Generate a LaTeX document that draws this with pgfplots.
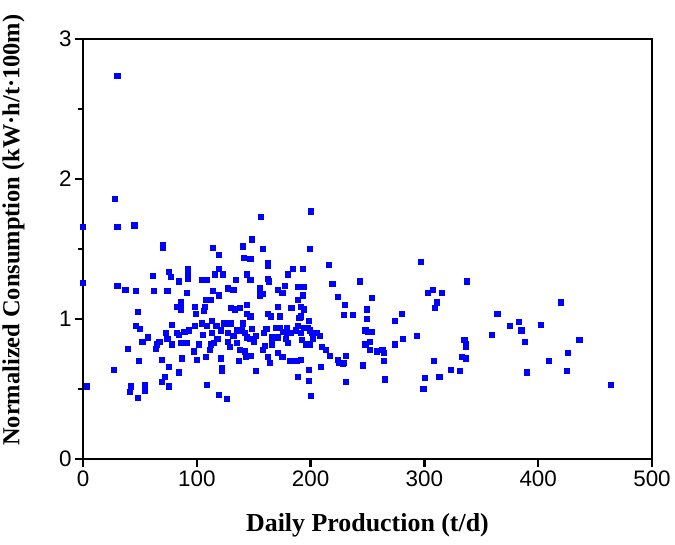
\documentclass[border=0pt]{standalone}
\usepackage{pgfplots}
\pgfplotsset{compat=1.18}
\usepackage{fontspec}
\setmainfont{Liberation Serif}
\newfontfamily\ticksf{Liberation Sans}
\begin{document}
\begin{tikzpicture}
\path[use as bounding box] (-83bp,-86bp) rectangle (592bp,459bp);
\begin{axis}[
  at={(0,0)}, anchor=south west,
  scale only axis, width=569bp, height=420bp,
  xmin=0, xmax=500, ymin=0, ymax=3,
  xtick={0,100,200,300,400,500}, ytick={0,1,2,3},
  minor ytick={0.5,1.5,2.5},
  tick align=outside, tick pos=left,
  major tick length=8bp, minor tick length=5bp,
  axis line style={line width=2.8bp},
  every tick/.style={black, line width=2.2bp},
  /pgf/number format/assume math mode=true,
  tick label style={font=\ticksf\fontsize{22.5}{26}\selectfont},
  xlabel={\textbf{Daily Production (t/d)}},
  ylabel={\textbf{Normalized Consumption (kW·h/t·100m)}},
  xlabel style={font=\fontsize{26}{30}\selectfont, at={(axis description cs:0.5,-0.157)}, anchor=center},
  ylabel style={font=\fontsize{24.5}{28}\selectfont, at={(axis description cs:-0.122,0.545)}, anchor=center, rotate=0},
  clip=false,
]
\addplot[only marks, mark=square*, mark size=2.6bp, color={rgb,255:red,0;green,0;blue,255}] coordinates {
(30,2.74) (28,1.86) (0,1.66) (30,1.66) (45,1.67) (0,1.26) (3,0.52)
(30,1.24) (37,1.21) (46,1.20) (48,1.05) (61,1.31) (70,1.53) (70,1.51) (62,1.20) (74,1.20)
(75,1.34) (77,1.30) (84,1.27) (91,1.19) (92,1.36) (92,1.32) (92,1.29) (104,1.28) (109,1.28)
(114,1.51) (119,1.46) (119,1.36) (116,1.32) (123,1.32) (114,1.20) (119,1.17) (127,1.22)
(132,1.21) (134,1.28) (140,1.52) (148,1.57) (141,1.44) (147,1.43) (144,1.32) (147,1.28)
(156,1.73) (158,1.50) (162,1.40) (162,1.38) (162,1.29) (163,1.27) (155,1.22) (155,1.17)
(158,1.18) (82,1.09) (86,1.12) (86,1.07) (98,1.09) (99,1.04) (108,1.14) (112,1.14)
(107,1.09) (106,1.06) (130,1.08) (133,1.07) (138,1.08) (144,1.10) (144,1.04) (147,1.02)
(200,1.77) (199,1.50) (184,1.36) (180,1.32) (193,1.36) (216,1.39) (297,1.41) (219,1.25)
(243,1.27) (171,1.21) (177,1.24) (175,1.19) (189,1.23) (194,1.23) (193,1.17) (189,1.14)
(224,1.16) (254,1.15) (230,1.10) (249,1.07) (171,1.09) (183,1.08) (191,1.09) (194,1.07)
(229,1.03) (237,1.03) (280,1.04) (303,1.19) (307,1.21) (315,1.19) (311,1.12) (309,1.08)
(190,1.01)
(337,1.27) (420,1.12) (364,1.04) (375,0.95) (383,0.98) (385,0.92) (402,0.96) (359,0.89)
(388,0.84) (436,0.85) (335,0.85) (336,0.82) (336,0.80) (426,0.76) (333,0.73) (336,0.72)
(409,0.70) (323,0.64) (331,0.63) (390,0.62) (425,0.63) (464,0.53) (313,0.59)
(249,1.00) (274,0.99) (293,0.88) (281,0.86) (274,0.82) (248,0.92) (250,0.91) (254,0.91)
(248,0.82) (252,0.84) (252,0.78) (258,0.77) (263,0.78) (264,0.76) (264,0.70) (265,0.57)
(246,0.67) (231,0.55) (231,0.74) (224,0.71) (225,0.69) (228,0.68) (229,0.69) (217,0.74)
(209,0.66) (198,0.64) (189,0.59) (198,0.56) (200,0.45) (188,0.70) (191,0.71) (182,0.70)
(164,0.69) (308,0.70) (300,0.58) (299,0.50)
(191,1.02) (198,0.99) (162,1.04) (165,1.02) (173,1.02) (161,0.93) (159,0.90) (169,0.94)
(173,0.94) (179,0.94) (179,0.90) (176,0.91) (182,0.90) (187,0.92) (189,0.95) (191,0.90)
(194,0.94) (197,0.94) (199,0.92) (201,0.90) (205,0.90) (208,0.88) (202,0.86) (166,0.87)
(171,0.87) (178,0.86) (180,0.83) (166,0.82) (160,0.81) (158,0.78) (162,0.73) (171,0.76)
(175,0.73) (192,0.85) (196,0.82) (199,0.82) (210,0.80) (213,0.78)
(46,0.95) (50,0.93) (57,0.87) (52,0.84) (39,0.79) (49,0.70) (27,0.64) (42,0.52) (41,0.48)
(48,0.44) (54,0.53) (54,0.49) (69,0.55) (72,0.59) (75,0.52) (75,0.66) (69,0.71) (84,0.62)
(87,0.72) (65,0.82) (67,0.84) (64,0.79) (73,0.90) (74,0.86) (78,0.96) (78,0.82) (82,0.90)
(84,0.89) (86,0.83) (91,0.83) (89,0.91) (93,0.92) (98,0.95) (97,0.77) (100,0.71) (102,0.82)
(104,0.97) (105,0.89) (108,0.73) (109,0.53) (111,0.78) (112,0.82) (113,0.99) (113,0.90)
(117,0.95) (115,0.83) (121,0.72) (122,0.65) (122,0.63) (119,0.46) (126,0.43) (124,0.97)
(121,0.92) (127,0.90) (127,0.84) (129,0.80) (130,0.97) (132,0.88) (135,0.83) (138,0.78)
(137,0.70) (139,0.92) (140,0.97) (142,0.77) (143,0.73) (147,0.74) (144,0.87) (147,0.86)
(148,0.93) (152,0.88) (150,0.84) (152,0.63)
(109,0.95) (118,0.86) (135,0.92) (142,0.90)
};
\end{axis}
\end{tikzpicture}
\end{document}
